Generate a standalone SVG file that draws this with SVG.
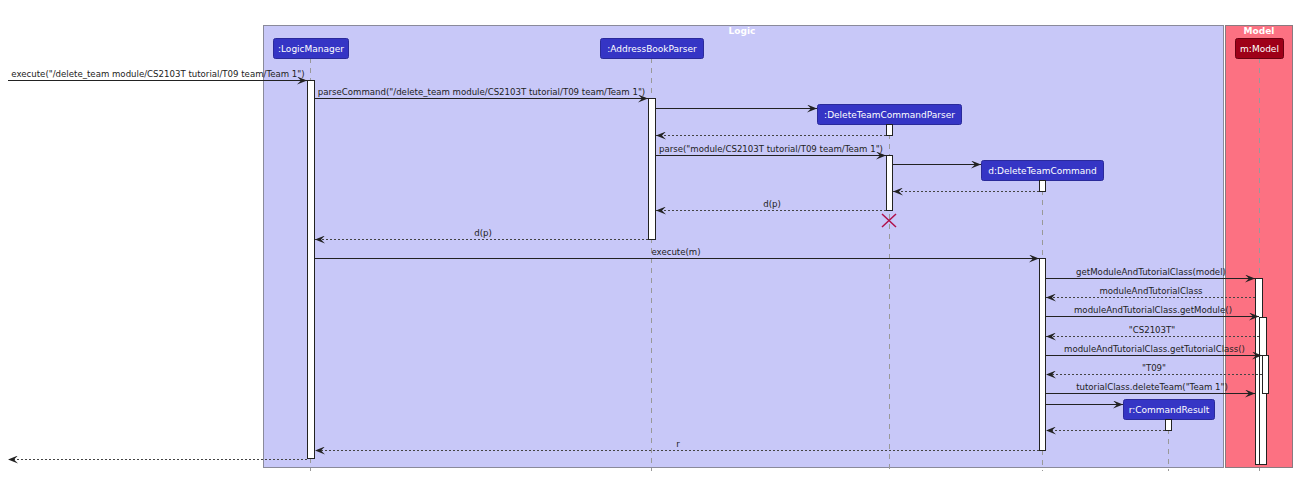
<svg xmlns="http://www.w3.org/2000/svg" width="1311" height="484" viewBox="0 0 1311 484">
<style>
text{font-family:"DejaVu Sans",sans-serif;font-size:9px;fill:#222}
.pt{fill:#fff;text-anchor:middle}
.box{fill:#3535C5;stroke:#2a2a9a;stroke-width:1}
.life{stroke:#999;stroke-width:1;stroke-dasharray:5,5}
.act{fill:#fff;stroke:#222;stroke-width:1}
.msg{stroke:#222;stroke-width:1;fill:none}
.ret{stroke:#444;stroke-width:1;fill:none;stroke-dasharray:2,2}
.lbl{text-anchor:middle;font-size:8.6px}
.ttl{fill:#fff;font-weight:bold;text-anchor:middle}
</style>
<defs>
<marker id="ah" viewBox="0 0 10 8" refX="10" refY="4" markerWidth="10" markerHeight="8" markerUnits="userSpaceOnUse" orient="auto">
<polygon points="0,0 10,4 0,8 4,4" fill="#222"/>
</marker>
</defs>
<rect width="1311" height="484" fill="#fff"/>
<g id="box-logic">
<rect x="263.5" y="25.5" width="960" height="442" fill="#C8C8F8" stroke="#8a8a9a"/>
<text class="ttl" x="742" y="34">Logic</text>
</g>
<g id="box-model">
<rect x="1225.5" y="25.5" width="67" height="442" fill="#FC7182" stroke="#8a7a80"/>
<text class="ttl" x="1259" y="34">Model</text>
</g>
<g id="lifelines">
<line class="life" x1="310.5" y1="58" x2="310.5" y2="471"/>
<line class="life" x1="651.5" y1="58" x2="651.5" y2="471"/>
<line class="life" x1="889.5" y1="124" x2="889.5" y2="471"/>
<line class="life" x1="1042.5" y1="180" x2="1042.5" y2="471"/>
<line class="life" x1="1168.5" y1="419" x2="1168.5" y2="471"/>
<line class="life" x1="1259.5" y1="58" x2="1259.5" y2="471" stroke="#b05060"/>
</g>
<g id="LogicManager">
<rect class="box" x="273.5" y="38.5" width="75" height="20" rx="2"/>
<text class="pt" x="311" y="52">:LogicManager</text>
<rect class="act" x="307.5" y="80.5" width="7" height="378"/>
</g>
<g id="AddressBookParser">
<rect class="box" x="600.5" y="38.5" width="103" height="20" rx="2"/>
<text class="pt" x="652" y="52">:AddressBookParser</text>
<rect class="act" x="648.5" y="98.5" width="7" height="141"/>
</g>
<g id="DeleteTeamCommandParser">
<rect class="box" x="817.5" y="104.5" width="144" height="20" rx="2"/>
<text class="pt" x="889.5" y="118">:DeleteTeamCommandParser</text>
<rect class="act" x="886.5" y="124.5" width="6" height="11"/>
<rect class="act" x="886.5" y="155.5" width="6" height="55"/>
<path d="M882,214 L896,227 M896,214 L882,227" stroke="#B0104A" stroke-width="1.5"/>
</g>
<g id="DeleteTeamCommand">
<rect class="box" x="981.5" y="160.5" width="122" height="20" rx="2"/>
<text class="pt" x="1042.5" y="174">d:DeleteTeamCommand</text>
<rect class="act" x="1039.5" y="180.5" width="6" height="11"/>
<rect class="act" x="1039.5" y="258.5" width="6" height="192"/>
</g>
<g id="CommandResult">
<rect class="box" x="1123.5" y="399.5" width="91" height="20" rx="2"/>
<text class="pt" x="1169" y="413">r:CommandResult</text>
<rect class="act" x="1165.5" y="419.5" width="6" height="11"/>
</g>
<g id="Model">
<rect x="1235.5" y="38.5" width="48" height="20" rx="2" fill="#9E0018" stroke="#6a0010"/>
<text class="pt" x="1259.5" y="52">m:Model</text>
<rect class="act" x="1255.5" y="278.5" width="7" height="186"/>
<rect class="act" x="1259.5" y="317.5" width="7" height="147"/>
<rect class="act" x="1262.5" y="355.5" width="6" height="38"/>
</g>
<g id="connectors">
<line class="msg" x1="8" y1="80.5" x2="307" y2="80.5" marker-end="url(#ah)"/>
<text class="lbl" x="158" y="77">execute("/delete_team module/CS2103T tutorial/T09 team/Team 1")</text>
<line class="msg" x1="315" y1="98.5" x2="648" y2="98.5" marker-end="url(#ah)"/>
<text class="lbl" x="481.5" y="95">parseCommand("/delete_team module/CS2103T tutorial/T09 team/Team 1")</text>
<line class="msg" x1="656" y1="108.5" x2="817" y2="108.5" marker-end="url(#ah)"/>
<line class="ret" x1="886" y1="135.5" x2="656" y2="135.5" marker-end="url(#ah)"/>
<line class="msg" x1="656" y1="155.5" x2="886" y2="155.5" marker-end="url(#ah)"/>
<text class="lbl" x="771" y="152">parse("module/CS2103T tutorial/T09 team/Team 1")</text>
<line class="msg" x1="893" y1="164.5" x2="981" y2="164.5" marker-end="url(#ah)"/>
<line class="ret" x1="1039" y1="191.5" x2="893" y2="191.5" marker-end="url(#ah)"/>
<line class="ret" x1="886" y1="210.5" x2="656" y2="210.5" marker-end="url(#ah)"/>
<text class="lbl" x="772" y="207">d(p)</text>
<line class="ret" x1="648" y1="239.5" x2="315" y2="239.5" marker-end="url(#ah)"/>
<text class="lbl" x="483" y="236">d(p)</text>
<line class="msg" x1="315" y1="258.5" x2="1039" y2="258.5" marker-end="url(#ah)"/>
<text class="lbl" x="676" y="255">execute(m)</text>
<line class="msg" x1="1046" y1="278.5" x2="1255" y2="278.5" marker-end="url(#ah)"/>
<text class="lbl" x="1151" y="275">getModuleAndTutorialClass(model)</text>
<line class="ret" x1="1255" y1="297.5" x2="1046" y2="297.5" marker-end="url(#ah)"/>
<text class="lbl" x="1151" y="294">moduleAndTutorialClass</text>
<line class="msg" x1="1046" y1="316.5" x2="1259" y2="316.5" marker-end="url(#ah)"/>
<text class="lbl" x="1153" y="313">moduleAndTutorialClass.getModule()</text>
<line class="ret" x1="1259" y1="336.5" x2="1046" y2="336.5" marker-end="url(#ah)"/>
<text class="lbl" x="1152" y="333">"CS2103T"</text>
<line class="msg" x1="1046" y1="355.5" x2="1262" y2="355.5" marker-end="url(#ah)"/>
<text class="lbl" x="1154.5" y="352">moduleAndTutorialClass.getTutorialClass()</text>
<line class="ret" x1="1262" y1="374.5" x2="1046" y2="374.5" marker-end="url(#ah)"/>
<text class="lbl" x="1154" y="371">"T09"</text>
<line class="msg" x1="1046" y1="393.5" x2="1255" y2="393.5" marker-end="url(#ah)"/>
<text class="lbl" x="1152" y="390">tutorialClass.deleteTeam("Team 1")</text>
<line class="msg" x1="1046" y1="404.5" x2="1123" y2="404.5" marker-end="url(#ah)"/>
<line class="ret" x1="1165" y1="430.5" x2="1046" y2="430.5" marker-end="url(#ah)"/>
<line class="ret" x1="1039" y1="450.5" x2="315" y2="450.5" marker-end="url(#ah)"/>
<text class="lbl" x="678" y="447">r</text>
<line class="ret" x1="307" y1="459.5" x2="8" y2="459.5" marker-end="url(#ah)"/>
</g>
</svg>
